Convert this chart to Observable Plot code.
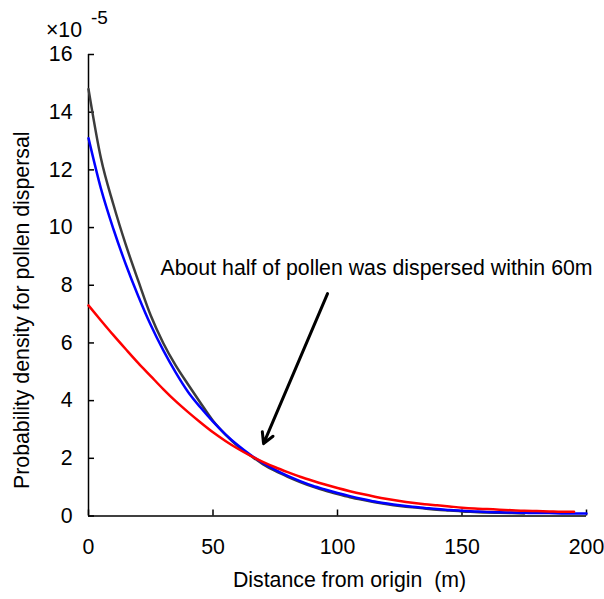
<!DOCTYPE html>
<html><head><meta charset="utf-8">
<script src="https://cdn.jsdelivr.net/npm/d3@7"></script>
<script src="https://cdn.jsdelivr.net/npm/@observablehq/plot@0.6"></script>
<style>body{margin:0;background:#fff} svg{display:block}</style>
</head><body><div id="chart"></div>
<script>
const distance = [0,5,10,15,20,25,30,35,40,45,50,55,60,65,70,75,80,85,90,95,100,105,110,115,120,125,130,135,140,145,150,155,160,165,170,175,180,185,190,195,200];
const blackDensity = [14.8,12.4,10.8,9.4,8.15,6.95,6.0,5.22,4.56,3.92,3.3,2.82,2.42,2.1,1.8,1.56,1.36,1.18,1.02,0.88,0.76,0.65,0.56,0.48,0.41,0.35,0.3,0.26,0.22,0.19,0.16,0.14,0.12,0.11,0.1,0.09,null,null,null,null,null];
const blueDensity = [13.1,11.35,9.95,8.72,7.62,6.62,5.75,4.98,4.3,3.76,3.27,2.83,2.45,2.12,1.84,1.6,1.39,1.21,1.05,0.92,0.8,0.69,0.59,0.5,0.43,0.37,0.32,0.28,0.24,0.21,0.18,0.16,0.14,0.13,0.12,0.11,0.1,0.1,0.09,0.09,0.09];
const redDensity = [7.3,6.78,6.27,5.78,5.3,4.85,4.4,3.98,3.6,3.24,2.9,2.6,2.33,2.09,1.88,1.69,1.52,1.36,1.22,1.09,0.97,0.86,0.76,0.67,0.59,0.52,0.46,0.41,0.37,0.33,0.29,0.26,0.24,0.22,0.2,0.18,0.17,0.16,0.15,0.15,null];
const xTicks = [0,50,100,150,200];
const yTicks = [0,2,4,6,8,10,12,14,16];
const xTitle = "Distance from origin  (m)";
const yTitle = "Probability density for pollen dispersal";
const noteText = "About half of pollen was dispersed within 60m";
const noteArrow = [{x1: 96, y1: 7.71, x2: 70.3, y2: 2.51}];
const noteLabel = [{x: 28.9, y: 8.58, text: noteText}];

const toRows = (vals) => distance.map((d, i) => ({d, v: vals[i]})).filter(r => r.v != null);

const font = "Liberation Sans, Arial, sans-serif";
const fs = 21.3;
const chart = Plot.plot({
  width: 604, height: 599,
  marginLeft: 88, marginRight: 18, marginTop: 54, marginBottom: 83.5,
  style: {fontFamily: font, background: "#fff", color: "#000"},
  x: {domain: [0, 200]},
  y: {domain: [0, 16]},
  marks: [
    Plot.axisX({ticks: xTicks, tickSize: 0, tickPadding: 23, fontSize: fs, label: null}),
    Plot.axisX({ticks: xTicks, tickSize: 6, dy: -6, text: null, label: null, strokeWidth: 1.5}),
    Plot.axisY({ticks: yTicks, tickSize: 0, tickPadding: 16, fontSize: fs, label: null}),
    Plot.axisY({ticks: yTicks, tickSize: 6, dx: 6, text: null, label: null, strokeWidth: 1.5}),
    Plot.ruleX([0], {stroke: "#000", strokeWidth: 1.5}),
    Plot.ruleY([0], {stroke: "#000", strokeWidth: 1.5}),
    Plot.line(toRows(blackDensity), {x: "d", y: "v", stroke: "#3c3c3c", strokeWidth: 2.5, curve: "monotone-x"}),
    Plot.line(toRows(blueDensity), {x: "d", y: "v", stroke: "#0000ff", strokeWidth: 2.5, curve: "monotone-x"}),
    Plot.line(toRows(redDensity), {x: "d", y: "v", stroke: "#ff0000", strokeWidth: 2.5, curve: "monotone-x"}),
    Plot.arrow(noteArrow, {x1: "x1", y1: "y1", x2: "x2", y2: "y2", stroke: "#000", strokeWidth: 3, headLength: 6, headAngle: 58}),
    Plot.text(noteLabel, {x: "x", y: "y", text: "text", textAnchor: "start", fontSize: fs, fill: "#000"}),
    Plot.text([xTitle], {frameAnchor: "bottom", textAnchor: "middle", lineAnchor: "middle", dy: 64.5, dx: 12, fontSize: fs, fill: "#000"}),
    Plot.text([yTitle], {frameAnchor: "left", textAnchor: "middle", lineAnchor: "middle", rotate: -90, dx: -66, dy: 25, fontSize: fs, fill: "#000"}),
    Plot.text(["×10"], {frameAnchor: "top-left", textAnchor: "middle", lineAnchor: "middle", dx: -24.5, dy: -24.5, fontSize: fs, fill: "#000"}),
    Plot.text(["-5"], {frameAnchor: "top-left", textAnchor: "middle", lineAnchor: "middle", dx: 11, dy: -37, fontSize: 19, fill: "#000"})
  ]
});
document.getElementById("chart").append(chart);
</script>
</body></html>
